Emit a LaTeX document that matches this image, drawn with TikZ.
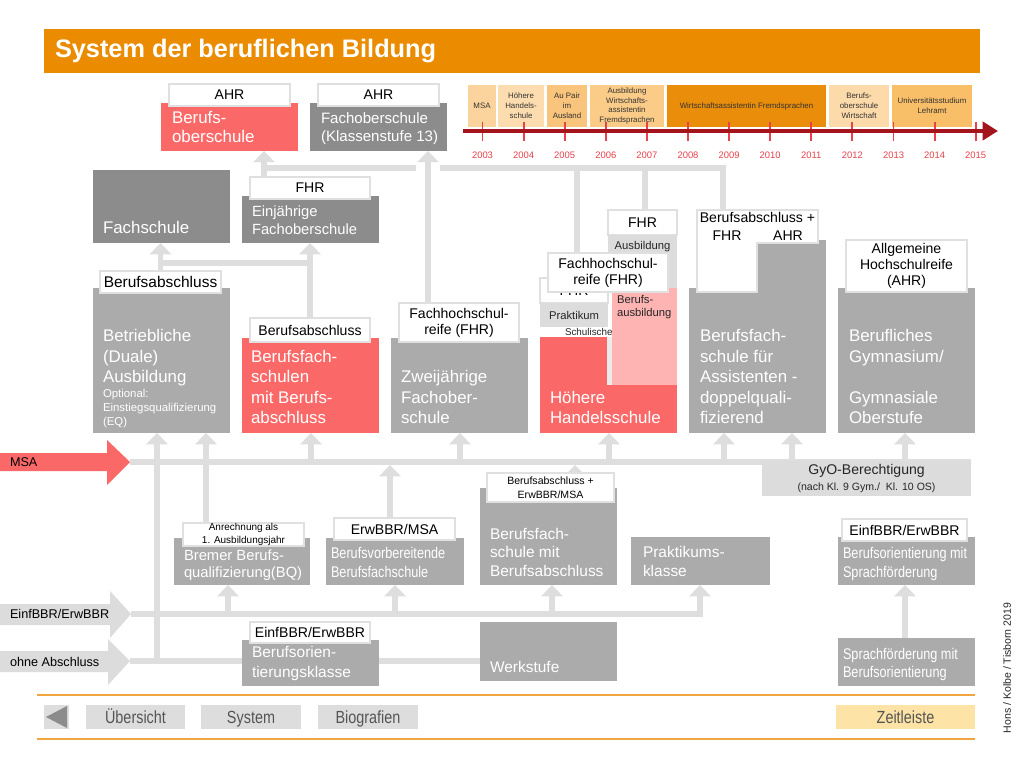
\documentclass[tikz,border=0pt]{standalone}
\usepackage{fontspec}
\setmainfont{Liberation Sans}
\newfontfamily\narrowfont[FakeStretch=0.82]{Liberation Sans}
\usetikzlibrary{arrows.meta,calc}
\definecolor{orangeT}{HTML}{EB8C00}
\definecolor{redB}{HTML}{FA6868}
\definecolor{dkG}{HTML}{8C8C8C}
\definecolor{mdG}{HTML}{ABABAB}
\definecolor{ltG}{HTML}{DCDCDC}
\definecolor{lnG}{HTML}{DEDEDE}
\definecolor{pinkB}{HTML}{FFB4B4}
\definecolor{bordG}{HTML}{E0E0E0}
\definecolor{tlRed}{HTML}{A3141D}
\definecolor{tickR}{HTML}{E8414B}
\definecolor{navO}{HTML}{F0A640}
\definecolor{navY}{HTML}{FDE4A6}
\definecolor{navG}{HTML}{DDDDDD}
\definecolor{navT}{HTML}{555555}
\definecolor{tA}{HTML}{FBD39C}
\definecolor{tB}{HTML}{FDDDB0}
\definecolor{tC}{HTML}{F9C47C}
\definecolor{tD}{HTML}{FBCB88}
\definecolor{tE}{HTML}{E98D0A}
\definecolor{tF}{HTML}{FDDAAA}
\definecolor{tG}{HTML}{F9BE68}
\newcommand\fs[2]{\fontsize{#1}{#2}\selectfont}
\newcommand\bx[6]{\node[anchor=north west,minimum width={(#4-#2)*0.71132pt},minimum height={(#5-#3)*0.71132pt},#6] (#1) at (#2,#3)}
\begin{document}
\begin{tikzpicture}[x=0.025cm,y=-0.025cm,
  every node/.style={inner sep=0pt,outer sep=0pt},
  lbl/.style={fill=white,draw=bordG,line width=1pt,align=center,font=\fs{10}{11.5},text=black},
  btxt/.style={text=white,align=left,anchor=south west,font=\fs{12}{14.6},execute at end node=\strut},
  ln/.style={draw=lnG,line width=3.6pt},
  ua/.style={ln,-{Triangle[width=15pt,length=8pt]}},
  tlb/.style={align=center,font=\fs{5.6}{7},text=black!80},
  nav/.style={fill=navG,font=\narrowfont\fs{12.5}{14},text=navT,text height=10.5pt,text depth=1.5pt},
]
\useasboundingbox (0,0) rectangle (1024,768);
\fill[white] (0,0) rectangle (1024,768);

% ---------- title
\bx{title}{44}{29}{980}{73}{fill=orangeT}{};
\node[anchor=west,text=white,font=\bfseries\fs{18}{20}] (titletxt) at (55,51) {System der beruflichen Bildung};

% ---------- connectors (drawn first)
\coordinate (msaTip) at (130,462);
\coordinate (einfTip) at (131,614);
\coordinate (ohneTip) at (130,661);
% upper
\draw[ua] (160.5,271) -- (160.5,243);
\draw[ln] (160.5,263) -- (310,263);
\draw[ua] (310,318) -- (310,243);
\draw[ua] (264,177) -- (264,151);
\draw[ln] (264,168) -- (416,168);
\draw[ln] (440,168) -- (723,168) -- (723,210);
\draw[ua] (428,303) -- (428,151);
\draw[ln] (577,168) -- (577,278);
\draw[ln] (645,168) -- (645,210);
% MSA
\draw[ln] (msaTip) -- (971,462);
\foreach \xx in {311,460,609,724,792,905} \draw[ua] (\xx,462) -- (\xx,433);
\draw[ua] (ohneTip -| 157,0) -- (157,433);
\draw[ua] (206,523) -- (206,433);
\draw[ua] (390,518) -- (390,465);
\draw[ua] (575,473) -- (575,465);
% EinfBBR
\draw[ua] (einfTip) -| (700,585);
\draw[ua] (228,614) -- (228,585);
\draw[ua] (395,614) -- (395,585);
\draw[ua] (552,614) -- (552,585);
\draw[ua] (905,638) -- (905,585);
% ohne
\draw[ln] (ohneTip) -- (480,661);

% ---------- left arrows
\fill[redB] (0,453) -- (107,453) -- (107,440) -- (msaTip) -- (107,485) -- (107,471) -- (0,471) -- cycle;
\node[anchor=west,font=\fs{9}{10}] (msaT) at (10,462) {MSA};
\fill[ltG] (0,604) -- (110,604) -- (110,591) -- (einfTip) -- (110,638) -- (110,625) -- (0,625) -- cycle;
\node[anchor=west,font=\fs{9}{10}] (einfT) at (10,614) {EinfBBR/ErwBBR};
\fill[ltG] (0,651) -- (108,651) -- (108,639) -- (ohneTip) -- (108,685) -- (108,672) -- (0,672) -- cycle;
\node[anchor=west,font=\fs{9}{10}] (ohneT) at (10,662) {ohne Abschluss};

% ---------- top row
\bx{bos}{161}{103}{298}{151}{fill=redB}{};
\bx{bosL}{169}{84}{290}{106}{lbl}{AHR};
\node[btxt,font=\fs{12}{13.5}] (bosT) at ($(bos.south west)+(11,-3)$) {Berufs-\\oberschule};
\bx{fos}{310}{103}{447}{151}{fill=dkG}{};
\bx{fosL}{318}{84}{439}{106}{lbl}{AHR};
\node[btxt,font=\fs{10.7}{12.8}] (fosT) at ($(fos.south west)+(11,-4)$) {Fachoberschule\\(Klassenstufe 13)};

% ---------- timeline
\bx{t1}{468}{85}{496}{127}{fill=tA,tlb}{MSA};
\bx{t2}{498}{85}{544}{127}{fill=tB,tlb}{Höhere\\Handels-\\schule};
\bx{t3}{547}{85}{587}{127}{fill=tC,tlb}{Au Pair\\im\\Ausland};
\bx{t4}{590}{85}{664}{127}{fill=tD,tlb}{Ausbildung\\Wirtschafts-\\assistentin\\Fremdsprachen};
\bx{t5}{667}{85}{826}{127}{fill=tE,tlb}{Wirtschaftsassistentin Fremdsprachen};
\bx{t6}{829}{85}{889}{127}{fill=tF,tlb}{Berufs-\\oberschule\\Wirtschaft};
\bx{t7}{892}{85}{972}{127}{fill=tG,tlb}{Universitätsstudium\\Lehramt};
\foreach \i in {0,...,12}{
  \pgfmathsetmacro\xx{482.5+41.1*\i}
  \pgfmathtruncatemacro\yr{2003+\i}
  \draw[tickR,line width=1.3pt] (\xx,122) -- (\xx,141);
  \node[font=\fs{6.7}{8},text=tickR] (yr\i) at (\xx,155) {\yr};
}
\coordinate (tlS) at (463,131);
\coordinate (tlE) at (998,131);
\draw[tlRed,line width=2.6pt,-{Triangle[width=13pt,length=11pt]}] (tlS) -- (tlE);

% ---------- row 2
\bx{fach}{93}{170}{230}{243}{fill=dkG}{};
\node[btxt] (fachT) at ($(fach.south west)+(10,-3)$) {Fachschule};
\bx{ein}{242}{196}{379}{243}{fill=dkG}{};
\bx{einL}{250}{177}{370}{199}{lbl}{FHR};
\node[btxt,font=\fs{10.5}{12.8}] (einT) at ($(ein.south west)+(10,-3)$) {Einjährige\\Fachoberschule};

% ---------- row 3
\bx{bet}{93}{288}{230}{433}{fill=mdG}{};
\bx{betL}{100}{271}{221}{293}{lbl,font=\fs{11}{12}}{Berufsabschluss};
\node[btxt] (betT) at ($(bet.south west)+(10,-44)$) {Betriebliche\\(Duale)\\Ausbildung};
\node[btxt,font=\fs{8.1}{10}] (betT2) at ($(bet.south west)+(10,-3)$) {Optional:\\Einstiegsqualifizierung\\(EQ)};

\bx{bfs}{242}{338}{379}{433}{fill=redB}{};
\bx{bfsL}{250}{318}{370}{342}{lbl}{Berufsabschluss};
\node[btxt] (bfsT) at ($(bfs.south west)+(9,-3)$) {Berufsfach-\\schulen\\mit Berufs-\\abschluss};

\bx{zw}{391}{338}{528}{433}{fill=mdG}{};
\bx{zwL}{399}{303}{519}{342}{lbl}{Fachhochschul-\\reife (FHR)};
\node[btxt] (zwT) at ($(zw.south west)+(10,-3)$) {Zweijährige\\Fachober-\\schule};

% Hoehere Handelsschule stack
\bx{hhsFb}{540}{278}{608}{303}{lbl}{FHR};
\bx{hhsPr}{540}{303}{608}{327}{fill=ltG,font=\fs{8}{9},text=black!85}{Praktikum};
\bx{hhsSch}{548}{327}{612}{340}{fill=white}{};
\node[anchor=west,font=\fs{7}{8},text=black!85] (hhsSchT) at (565,332) {Schulische};
\bx{hhs}{540}{337}{677}{433}{fill=redB}{};
\bx{hhsStrip}{607}{337}{612}{385}{fill=white!92!black}{};
\bx{hhsFL}{608}{210}{677}{235}{lbl}{FHR};
\bx{hhsAus}{608}{235}{677}{288}{fill=ltG}{};
\node[font=\fs{8}{9},text=black!85] (hhsAusT) at (642.5,247) {Ausbildung};
\bx{hhsPink}{612}{288}{677}{385}{fill=pinkB}{};
\node[anchor=north west,align=left,font=\fs{8}{9.3},text=black!85] (hhsPinkT) at (617,295) {Berufs-\\ausbildung};
\bx{hhsL}{548}{253}{668}{292}{lbl}{Fachhochschul-\\reife (FHR)};
\node[btxt] (hhsT) at ($(hhs.south west)+(10,-3)$) {Höhere\\Handelsschule};

% Assistenten
\bx{ass}{689}{288}{826}{433}{fill=mdG}{};
\bx{assR}{757}{240}{826}{290}{fill=mdG}{};
\draw[fill=white,draw=bordG,line width=1pt] (697,210) -- (818,210) -- (818,243) -- (757,243) -- (757,292) -- (697,292) -- cycle;
\node[font=\fs{10}{11}] (assL) at (757.5,217) {Berufsabschluss +};
\node[font=\fs{10}{11}] (assF) at (727,236) {FHR};
\node[font=\fs{10}{11}] (assA) at (788,236) {AHR};
\node[btxt] (assT) at ($(ass.south west)+(11,-3)$) {Berufsfach-\\schule für\\Assistenten -\\doppelquali-\\fizierend};

% Gymnasium
\bx{gym}{838}{288}{975}{433}{fill=mdG}{};
\bx{gymL}{846}{240}{967}{292}{lbl,font=\fs{10}{11.4}}{Allgemeine\\Hochschulreife\\(AHR)};
\node[btxt] (gymT) at ($(gym.south west)+(11,-3)$) {Berufliches\\Gymnasium/\\[14.6pt]Gymnasiale\\Oberstufe};

% GyO
\bx{gyo}{762}{461}{971}{496}{fill=ltG,align=center,text=black!85}{\fs{10}{12}GyO-Berechtigung\\\fs{7.5}{10}(nach Kl. 9 Gym./~~Kl. 10 OS)};

% ---------- row 4
\bx{brem}{174}{538}{310}{585}{fill=mdG}{};
\bx{bremL}{183}{523}{304}{546}{lbl,font=\fs{7.1}{9}}{Anrechnung als\\1. Ausbildungsjahr};
\node[btxt,font=\fs{10.5}{12.2}] (bremT) at ($(brem.south west)+(10,-2)$) {Bremer Berufs-\\qualifizierung(BQ)};

\bx{bvb}{326}{538}{464}{585}{fill=mdG}{};
\bx{bvbL}{334}{518}{455}{540}{lbl}{ErwBBR/MSA};
\node[btxt,font=\narrowfont\fs{11}{13.4}] (bvbT) at ($(bvb.south west)+(5,-2)$) {Berufsvorbereitende\\Berufsfachschule};

\bx{bfsm}{480}{488}{617}{585}{fill=mdG}{};
\bx{bfsmL}{487}{473}{614}{502}{lbl,font=\fs{7.5}{10}}{Berufsabschluss +\\ErwBBR/MSA};
\node[btxt,font=\fs{11}{13.2}] (bfsmT) at ($(bfsm.south west)+(10,-3)$) {Berufsfach-\\schule mit\\Berufsabschluss};

\bx{prak}{631}{537}{770}{585}{fill=mdG}{};
\node[btxt,font=\fs{11}{13.5}] (prakT) at ($(prak.south west)+(12,-3)$) {Praktikums-\\klasse};

\bx{bors}{838}{537}{975}{585}{fill=mdG}{};
\bx{borsL}{842}{519}{967}{541}{lbl}{EinfBBR/ErwBBR};
\node[btxt,font=\narrowfont\fs{11}{13.4}] (borsT) at ($(bors.south west)+(5,-2)$) {Berufsorientierung mit\\Sprachförderung};

% ---------- row 5
\bx{bok}{242}{640}{379}{686}{fill=mdG}{};
\bx{bokL}{250}{622}{370}{643}{lbl}{EinfBBR/ErwBBR};
\node[btxt,font=\fs{11}{14.2}] (bokT) at ($(bok.south west)+(10,-3)$) {Berufsorien-\\tierungsklasse};

\bx{werk}{480}{622}{617}{681}{fill=mdG}{};
\node[btxt,font=\fs{11}{13.2}] (werkT) at ($(werk.south west)+(10,-3)$) {Werkstufe};

\bx{spr}{838}{638}{975}{686}{fill=mdG}{};
\node[btxt,font=\narrowfont\fs{11}{13}] (sprT) at ($(spr.south west)+(5,-3)$) {Sprachförderung mit\\Berufsorientierung};

% ---------- navigation
\draw[navO,line width=1.5pt] (37,695) -- (975,695);
\draw[navO,line width=1.5pt] (37,739) -- (975,739);
\bx{navBack}{44}{705}{69}{729}{fill=navG}{};
\fill[black!45] (46,717) -- (67,706) -- (67,728) -- cycle;
\bx{navU}{86}{705}{185}{729}{nav}{Übersicht};
\bx{navS}{201}{705}{301}{729}{nav}{System};
\bx{navB}{318}{705}{418}{729}{nav}{Biografien};
\bx{navZ}{836}{705}{975}{729}{nav,fill=navY}{Zeitleiste};

\node[rotate=90,font=\fs{7.5}{9},text=black!85] (credit) at (1007,668) {Hons / Kolbe / Tisborn 2019};
\end{tikzpicture}
\end{document}
